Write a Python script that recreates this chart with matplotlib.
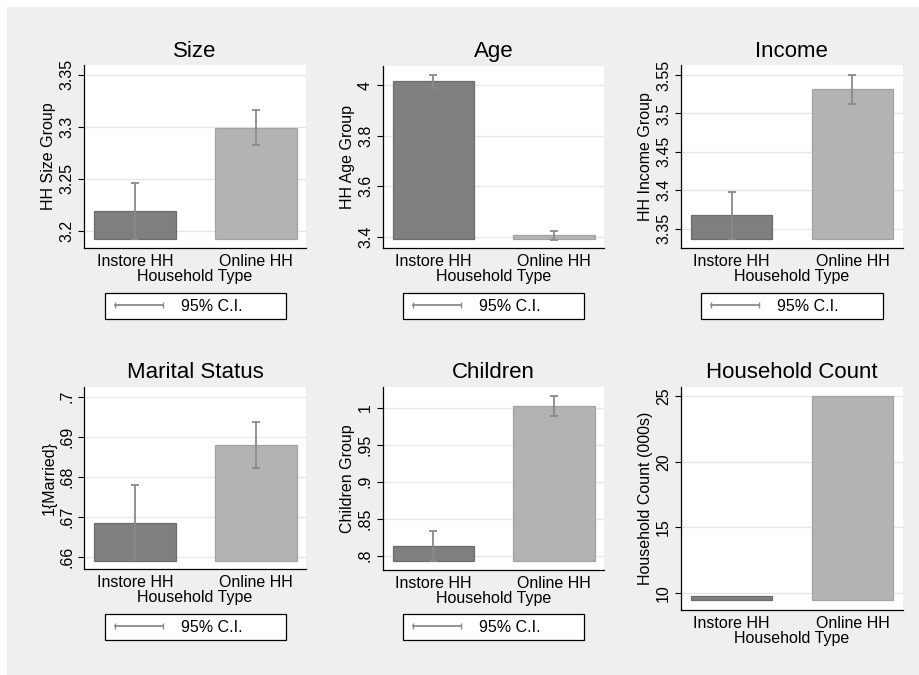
import matplotlib
matplotlib.use('Agg')
import matplotlib.pyplot as plt
from matplotlib.lines import Line2D
from matplotlib.patches import Rectangle

plt.rcParams['font.family'] = ['Liberation Sans', 'DejaVu Sans']

# data
categories = ['Instore HH', 'Online HH']
titles = ['Size', 'Age', 'Income', 'Marital Status', 'Children', 'Household Count']
ylabels = ['HH Size Group', 'HH Age Group', 'HH Income Group', '1{Married}',
           'Children Group', 'Household Count (000s)']

size_mean = [3.219, 3.299]
size_ci = [0.027, 0.0167]
age_mean = [4.016, 3.4055]
age_ci = [0.025, 0.017]
income_mean = [3.3674, 3.5315]
income_ci = [0.031, 0.019]
married_mean = [0.6685, 0.6880]
married_ci = [0.0094, 0.0058]
children_mean = [0.8131, 1.0019]
children_ci = [0.0199, 0.0135]
count_mean = [9.77, 25.0]

# bar baselines (Stata draws from just below the lowest tick)
bar_base = [3.1917, 3.3897, 3.3362, 0.659, 0.7932, 9.47]

size_ticks = [3.2, 3.25, 3.3, 3.35]
size_ticklabels = ['3.2', '3.25', '3.3', '3.35']
age_ticks = [3.4, 3.6, 3.8, 4.0]
age_ticklabels = ['3.4', '3.6', '3.8', '4']
income_ticks = [3.35, 3.4, 3.45, 3.5, 3.55]
income_ticklabels = ['3.35', '3.4', '3.45', '3.5', '3.55']
married_ticks = [0.66, 0.67, 0.68, 0.69, 0.70]
married_ticklabels = ['.66', '.67', '.68', '.69', '.7']
children_ticks = [0.8, 0.85, 0.9, 0.95, 1.0]
children_ticklabels = ['.8', '.85', '.9', '.95', '1']
count_ticks = [10, 15, 20, 25]
count_ticklabels = ['10', '15', '20', '25']

ylims = [(3.1834, 3.3593), (3.354, 4.0776), (3.3245, 3.563),
         (0.6569, 0.7025), (0.7807, 1.0284), (8.73, 25.7)]

W, H = 920, 675
fig = plt.figure(figsize=(W / 100, H / 100), dpi=100, facecolor='white')
fig.add_artist(Rectangle((7 / W, 0), 1, 1 - 7 / H, transform=fig.transFigure,
                         facecolor='#efefef', edgecolor='none', zorder=-5))


def px_rect(left, top, right, bottom):
    return [left / W, 1 - bottom / H, (right - left) / W, (bottom - top) / H]


# axes boxes in pixels (left, top, right, bottom)
boxes = [(84, 65, 306, 248), (382.7, 65.7, 604, 248.3), (680.7, 65, 902.7, 248.3),
         (84, 386.7, 306, 569.3), (382.7, 386.7, 604, 570), (680.7, 386.7, 902.7, 610)]
# legend boxes in pixels (left, top, right, bottom)
legend_boxes = [(105, 293.3, 286, 322.3), (402.7, 293.3, 584, 322.3),
                (701, 293.3, 882.7, 322.3), (105, 614.3, 286, 643.3),
                (402.7, 614.3, 584, 643.3), None]

means = [size_mean, age_mean, income_mean, married_mean, children_mean, count_mean]
cis = [size_ci, age_ci, income_ci, married_ci, children_ci, None]
ticks = [size_ticks, age_ticks, income_ticks, married_ticks, children_ticks, count_ticks]
ticklabels = [size_ticklabels, age_ticklabels, income_ticklabels, married_ticklabels,
              children_ticklabels, count_ticklabels]

bar_colors = ['#7f7f7f', '#b3b3b3']
bar_edges = ['#6c6c6c', '#a3a3a3']
ci_color = '#8a8a8a'
x = [0, 1]

for i in range(6):
    ax = fig.add_axes(px_rect(*boxes[i]))
    base = bar_base[i]
    heights = [m - base for m in means[i]]
    ax.bar(x, heights, bottom=base, width=0.675, color=bar_colors,
           edgecolor=bar_edges, linewidth=0.9, zorder=2)
    if cis[i] is not None:
        ax.errorbar(x, means[i], yerr=cis[i], fmt='none', ecolor=ci_color,
                    elinewidth=1.3, capsize=2.8, capthick=1.3, zorder=3)

    ax.set_xlim(-0.42, 1.415)
    ax.set_ylim(*ylims[i])
    ax.set_xticks(x)
    ax.set_xticklabels(categories, fontsize=11.5)
    ax.set_yticks(ticks[i])
    ax.set_yticklabels(ticklabels[i], rotation=90, va='center', fontsize=11.5)
    ax.tick_params(axis='x', length=0, pad=4)
    ax.tick_params(axis='y', length=4.5, width=0.8, pad=2.5, direction='out')
    ax.set_xlabel('Household Type', fontsize=11.5, labelpad=0)
    ax.set_ylabel(ylabels[i], fontsize=11.5, labelpad=2)
    ax.set_title(titles[i], fontsize=16, pad=6)

    ax.yaxis.grid(True, color='#e6e6e6', linewidth=1.0)
    ax.set_axisbelow(True)
    for s in ['top', 'right']:
        ax.spines[s].set_visible(False)
    for s in ['left', 'bottom']:
        ax.spines[s].set_linewidth(0.9)
        ax.spines[s].set_color('black')

    if legend_boxes[i] is not None:
        l, t, r, b = legend_boxes[i]
        handle = Line2D([], [], color=ci_color, linewidth=1.3, marker='|',
                        markersize=5, markeredgewidth=1.0)
        leg = ax.legend(handles=[handle], labels=['95% C.I.'], loc='upper left',
                        bbox_to_anchor=(l / W, 1 - b / H, (r - l) / W, (b - t) / H),
                        bbox_transform=fig.transFigure, mode='expand',
                        borderaxespad=0, fancybox=False, edgecolor='black',
                        framealpha=1, numpoints=2, handlelength=3.6,
                        handletextpad=0.8, borderpad=0.35, fontsize=11.5)
        leg.get_frame().set_linewidth(0.9)

fig.savefig('out.png', dpi=100)
